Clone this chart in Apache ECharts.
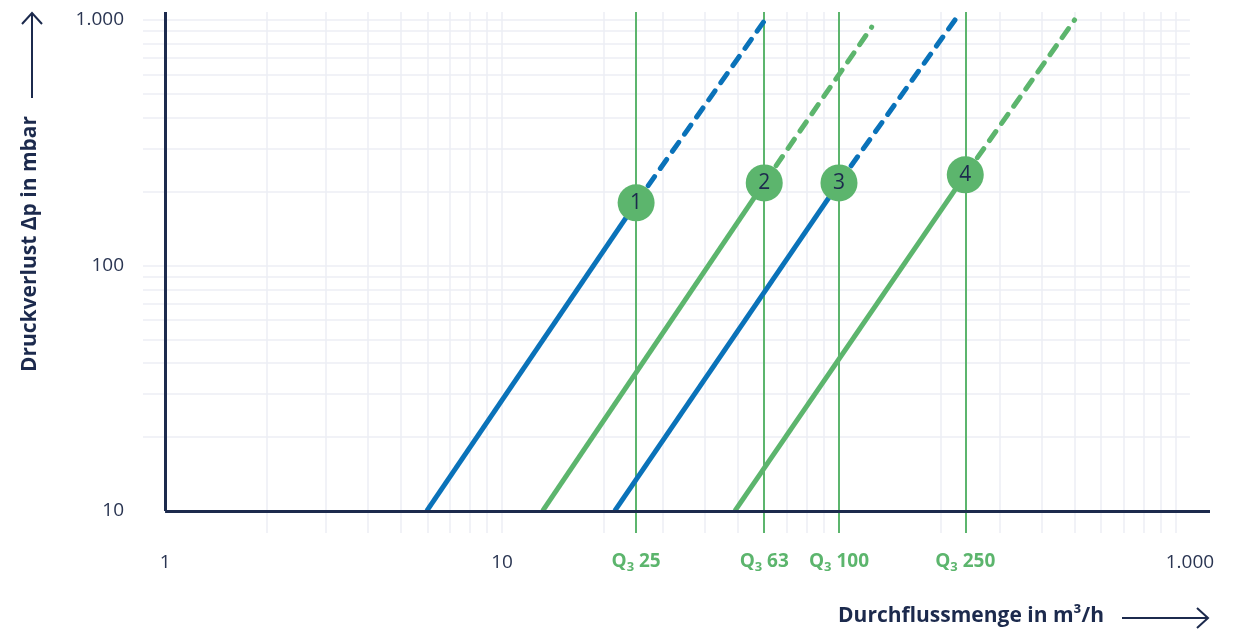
<!DOCTYPE html>
<html>
<head>
<meta charset="utf-8">
<title>Druckverlust</title>
<script src="https://cdn.jsdelivr.net/npm/echarts@6/dist/echarts.min.js"></script>
<style>
  html, body { margin: 0; padding: 0; background: #fff; }
  #main { width: 1236px; height: 634px; }
</style>
</head>
<body>
<div id="main"></div>
<script>
// Achsenbeschriftungen (log-Achsen)
const xTickLabels = { 1: '1', 10: '10', 1000: '1.000' };
const yTickLabels = { 10: '10', 100: '100', 1000: '1.000' };

// Hilfslinien
const xGridValues = [2, 3, 4, 5, 6, 7, 8, 9, 10, 20, 30, 40, 50, 60, 70, 80, 90, 200, 300, 400, 500, 600, 700, 800, 900, 1000];
const yGridValues = [20, 30, 40, 50, 60, 70, 80, 90, 100, 200, 300, 400, 500, 600, 700, 800, 900, 1000];

// Q3 Nenndurchfluss (Lage der senkrechten Linien)
const q3Values = [25, 60, 100, 237];
const q3Labels = ['25', '63', '100', '250'];

// Kennlinien: durchgezogen bis zum Punkt, danach gestrichelt
const line1Solid = [[5.98, 10], [25, 180]];
const line1Dash = [[25, 180], [60.3, 1000]];
const line2Solid = [[13.2, 10], [60, 217]];
const line2Dash = [[60, 217], [125, 935]];
const line3Solid = [[21.6, 10], [100, 217]];
const line3Dash = [[100, 217], [222, 1010]];
const line4Solid = [[49.1, 10], [237, 234]];
const line4Dash = [[237, 234], [500, 1000]];

// Nummerierte Punkte
const markerPoints = [[25, 180], [60, 217], [100, 217], [237, 234]];
const markerNames = ['1', '2', '3', '4'];

// Achsenbereich (etwas über die Achsen hinaus, damit Hilfslinien überstehen)
const xMin = 0.86, xMax = 1262, yMin = 8.13, yMax = 1078;
const xAxisStart = 1, yAxisStart = 10, hLineEnd = 1100;

const navy = '#1c2a4d';
const blue = '#0a72b9';
const green = '#5cb56d';
const gridColor = '#eceef4';
const labelColor = '#2a3552';
const font = '"Open Sans", "Noto Sans", sans-serif';

function pickLabel(map, v) {
  const key = Math.round(v * 1000) / 1000;
  return map[key] || '';
}

function lineSeries(data, color, dashed) {
  return {
    type: 'line',
    data: data,
    symbol: 'none',
    silent: true,
    z: 4,
    lineStyle: dashed
      ? { color: color, width: 5, type: [11, 10], cap: 'round' }
      : { color: color, width: 5 }
  };
}

const chart = echarts.init(document.getElementById('main'), null, { renderer: 'canvas' });

const option = {
  animation: false,
  grid: { left: 143, right: 26, top: 12, bottom: 101 },
  xAxis: {
    type: 'log',
    logBase: 10,
    min: xMin,
    max: xMax,
    axisLine: { show: false },
    axisTick: { show: false },
    splitLine: { show: false },
    axisLabel: {
      margin: 20,
      fontSize: 19,
      fontFamily: font,
      color: labelColor,
      formatter: function (v) {
        const t = pickLabel(xTickLabels, v);
        return t === '1.000' ? '{shift|' + t + '}' : t;
      },
      rich: { shift: { fontSize: 19, fontFamily: font, color: labelColor, padding: [0, 0, 0, 28] } }
    }
  },
  yAxis: {
    type: 'log',
    logBase: 10,
    min: yMin,
    max: yMax,
    axisLine: { show: false },
    axisTick: { show: false },
    splitLine: { show: false },
    axisLabel: {
      margin: 19,
      fontSize: 19,
      fontFamily: font,
      color: labelColor,
      formatter: function (v) { return pickLabel(yTickLabels, v); }
    }
  },
  series: [
    {
      // Hilfslinien
      type: 'line',
      data: [],
      silent: true,
      z: 1,
      markLine: {
        z: 1,
        silent: true,
        symbol: 'none',
        animation: false,
        label: { show: false },
        lineStyle: { color: gridColor, width: 1.5, type: 'solid' },
        data: xGridValues.map(v => ({ xAxis: v }))
          .concat(yGridValues.map(v => [{ coord: [xMin, v] }, { coord: [hLineEnd, v] }]))
      }
    },
    {
      // Q3 Linien
      type: 'line',
      data: [],
      silent: true,
      z: 2,
      markLine: {
        z: 2,
        silent: true,
        symbol: 'none',
        animation: false,
        lineStyle: { color: green, width: 2, type: 'solid' },
        label: {
          show: true,
          position: 'start',
          distance: 17,
          formatter: function (p) {
            return '{q|Q}{s|3}{q| ' + p.name + '}';
          },
          rich: {
            q: { color: green, fontWeight: 'bold', fontSize: 19, fontFamily: font, lineHeight: 24 },
            s: { color: green, fontWeight: 'bold', fontSize: 13, fontFamily: font, lineHeight: 16, verticalAlign: 'bottom' }
          }
        },
        data: q3Values.map((v, i) => ({ xAxis: v, name: q3Labels[i] }))
      }
    },
    lineSeries(line1Solid, blue, false),
    lineSeries(line1Dash, blue, true),
    lineSeries(line2Solid, green, false),
    lineSeries(line2Dash, green, true),
    lineSeries(line3Solid, blue, false),
    lineSeries(line3Dash, blue, true),
    lineSeries(line4Solid, green, false),
    lineSeries(line4Dash, green, true),
    {
      // Achsenlinien
      type: 'line',
      data: [],
      silent: true,
      z: 5,
      markLine: {
        z: 5,
        silent: true,
        symbol: 'none',
        animation: false,
        label: { show: false },
        lineStyle: { color: navy, width: 3, type: 'solid' },
        data: [
          [{ coord: [xAxisStart, yAxisStart] }, { coord: [xMax, yAxisStart] }],
          [{ coord: [xAxisStart, yAxisStart] }, { coord: [xAxisStart, yMax] }]
        ]
      }
    },
    {
      type: 'scatter',
      z: 6,
      silent: true,
      symbolSize: 37,
      itemStyle: { color: green, opacity: 1 },
      label: {
        show: true,
        position: 'inside',
        formatter: '{b}',
        color: navy,
        fontSize: 21,
        fontFamily: font
      },
      data: markerPoints.map((p, i) => ({ value: p, name: markerNames[i] }))
    }
  ],
  graphic: [
    {
      type: 'text',
      x: 30,
      y: 244,
      rotation: Math.PI / 2,
      style: {
        text: 'Druckverlust Δp in mbar',
        font: 'bold 21px ' + font,
        fill: navy,
        textAlign: 'center',
        textVerticalAlign: 'middle'
      }
    },
    { type: 'polyline', shape: { points: [[32, 98], [32, 13]] }, style: { stroke: navy, lineWidth: 2, fill: null } },
    { type: 'polyline', shape: { points: [[22, 24], [32, 13], [42, 24]] }, style: { stroke: navy, lineWidth: 2, fill: null } },
    {
      type: 'text',
      x: 1104,
      y: 616,
      style: {
        text: 'Durchflussmenge in m³/h',
        font: 'bold 21px ' + font,
        fill: navy,
        textAlign: 'right',
        textVerticalAlign: 'middle'
      }
    },
    { type: 'polyline', shape: { points: [[1122, 618], [1207, 618]] }, style: { stroke: navy, lineWidth: 2, fill: null } },
    { type: 'polyline', shape: { points: [[1197, 608], [1208, 618], [1197, 628]] }, style: { stroke: navy, lineWidth: 2, fill: null } }
  ]
};

chart.setOption(option);
</script>
</body>
</html>
